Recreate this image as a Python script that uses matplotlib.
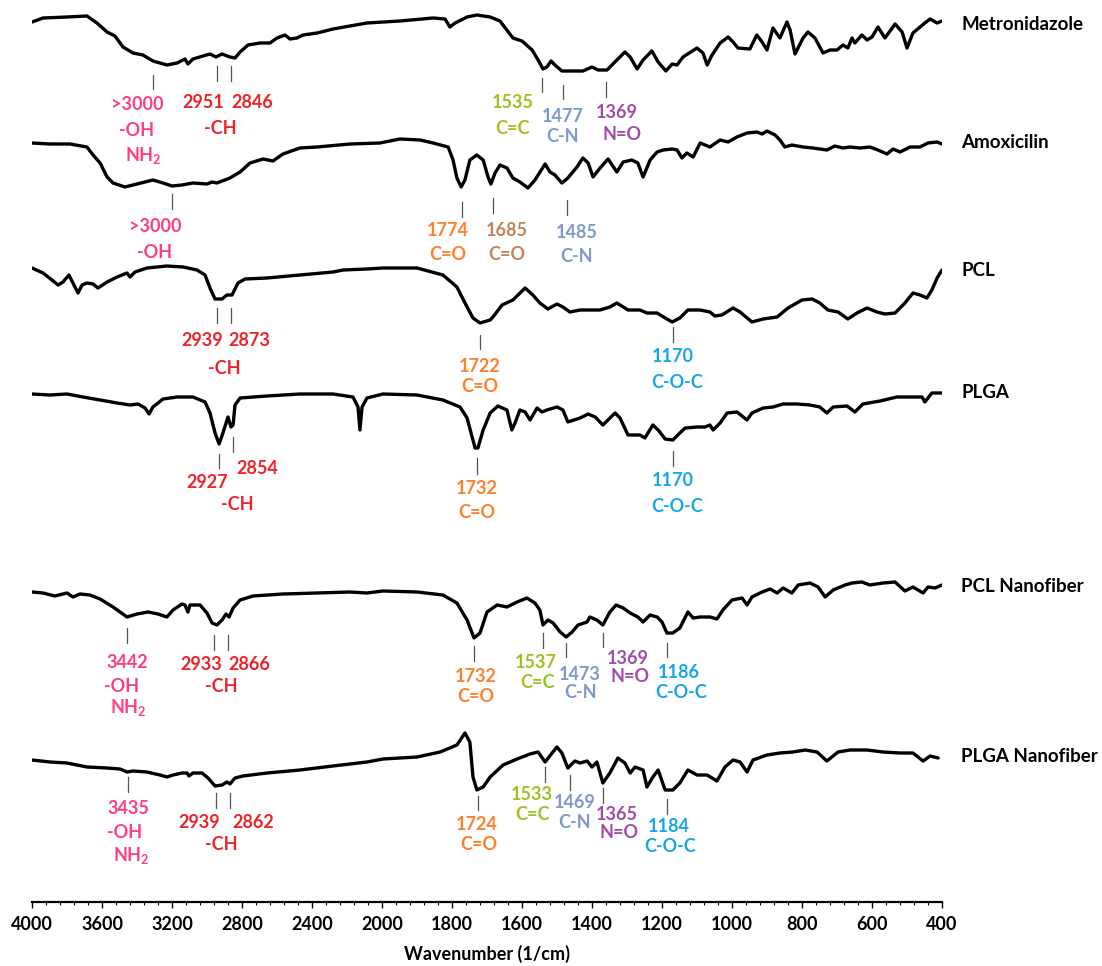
import numpy as np
import matplotlib
matplotlib.use('Agg')
import matplotlib.pyplot as plt
import matplotlib.transforms as mtransforms
from matplotlib.ticker import FixedLocator

plt.rcParams['font.family'] = ['Lato', 'DejaVu Sans']

# spectra: wavenumber (1/cm) and relative transmittance (a.u.)
metro_wn = [4000, 3937, 3800, 3686, 3629, 3571, 3526, 3480, 3423, 3366, 3309, 3229, 3171, 3126, 3109, 3080, 3023, 2983, 2949, 2914,
            2869, 2840, 2811, 2766, 2697, 2640, 2600, 2554, 2526, 2486, 2451, 2371, 2280, 2183, 2086, 1949, 1854, 1820, 1806, 1791,
            1757, 1729, 1691, 1663, 1626, 1600, 1571, 1554, 1540, 1529, 1517, 1506, 1486, 1463, 1426, 1400, 1383, 1357, 1329, 1306,
            1291, 1271, 1254, 1229, 1211, 1189, 1171, 1157, 1140, 1100, 1083, 1071, 1057, 1034, 1011, 997, 983, 949, 929, 914,
            900, 883, 863, 843, 834, 820, 797, 783, 763, 740, 720, 700, 683, 669, 657, 649, 629, 614, 600, 583,
            563, 534, 514, 500, 483, 449, 434, 414, 400]
metro_t = [93, 97, 98, 99, 92, 83, 79, 68, 62, 60, 54, 50, 52, 56, 51, 56, 59, 61, 58, 61,
           58, 57, 63, 70, 72, 72, 77, 80, 76, 77, 80, 82, 86, 89, 92, 94, 97, 96, 88, 92,
           98, 100, 98, 94, 77, 74, 65, 55, 46, 48, 54, 50, 44, 44, 44, 48, 45, 45, 55, 63,
           58, 46, 55, 64, 53, 44, 51, 50, 58, 67, 62, 50, 60, 72, 78, 73, 67, 66, 80, 73,
           65, 87, 77, 93, 85, 61, 77, 83, 77, 62, 65, 65, 70, 67, 77, 72, 80, 75, 78, 88,
           77, 91, 83, 67, 82, 92, 96, 92, 94]

amox_wn = [4000, 3897, 3783, 3686, 3651, 3611, 3571, 3537, 3469, 3400, 3309, 3251, 3200, 3143, 3080, 3000, 2971, 2943, 2869, 2811,
           2754, 2680, 2623, 2566, 2469, 2371, 2183, 2012, 1949, 1891, 1854, 1811, 1797, 1786, 1774, 1763, 1749, 1729, 1711, 1697,
           1689, 1677, 1663, 1643, 1626, 1606, 1583, 1563, 1534, 1520, 1506, 1486, 1469, 1443, 1426, 1411, 1397, 1377, 1354, 1329,
           1311, 1286, 1269, 1254, 1234, 1214, 1197, 1171, 1157, 1143, 1129, 1111, 1091, 1063, 1034, 1011, 986, 957, 929, 914,
           900, 877, 863, 849, 829, 797, 769, 729, 706, 683, 663, 634, 606, 583, 557, 540, 520, 491, 463, 440,
           414, 400]
amox_t = [88, 87, 87, 84, 76, 68, 54, 48, 44, 47, 51, 48, 45, 46, 48, 47, 49, 48, 53, 59,
          68, 72, 70, 77, 83, 84, 87, 88, 92, 91, 88, 84, 71, 53, 44, 51, 71, 76, 71, 54,
          47, 58, 66, 63, 53, 49, 43, 51, 67, 59, 56, 48, 53, 64, 73, 68, 54, 63, 72, 59,
          69, 71, 68, 54, 71, 79, 81, 82, 81, 73, 78, 74, 88, 84, 91, 89, 94, 98, 99, 97,
          100, 96, 91, 84, 86, 84, 83, 81, 85, 83, 84, 83, 84, 81, 77, 82, 79, 84, 84, 88,
          89, 87]

pcl_wn = [4000, 3937, 3886, 3851, 3823, 3789, 3766, 3737, 3714, 3686, 3651, 3623, 3571, 3514, 3457, 3440, 3411, 3343, 3229, 3137,
          3057, 3011, 2983, 2954, 2914, 2886, 2857, 2823, 2783, 2657, 2469, 2280, 2223, 2086, 1997, 1900, 1826, 1786, 1757, 1740,
          1720, 1691, 1683, 1657, 1626, 1591, 1569, 1549, 1526, 1500, 1483, 1463, 1434, 1406, 1377, 1349, 1329, 1297, 1263, 1243,
          1214, 1191, 1171, 1149, 1126, 1091, 1063, 1049, 1029, 997, 977, 943, 911, 871, 840, 800, 771, 749, 726, 697,
          669, 643, 614, 586, 563, 534, 506, 483, 463, 443, 429, 414, 400]
pcl_t = [98, 93, 86, 81, 84, 91, 83, 73, 81, 83, 82, 78, 84, 89, 93, 89, 94, 98, 100, 99,
         96, 91, 78, 67, 67, 71, 71, 83, 87, 88, 91, 94, 96, 97, 98, 98, 91, 79, 59, 48,
         43, 46, 49, 61, 66, 78, 71, 63, 57, 62, 59, 54, 56, 56, 56, 59, 63, 56, 56, 53,
         53, 48, 44, 48, 56, 56, 54, 50, 51, 58, 54, 44, 47, 49, 58, 66, 67, 63, 56, 54,
         47, 53, 58, 54, 52, 53, 63, 73, 71, 68, 76, 88, 96]

plga_wn = [4000, 3897, 3800, 3709, 3611, 3514, 3440, 3394, 3354, 3331, 3309, 3251, 3171, 3080, 3011, 2983, 2954, 2931, 2909, 2880,
           2863, 2851, 2840, 2811, 2657, 2469, 2280, 2166, 2137, 2126, 2114, 2086, 1997, 1900, 1826, 1777, 1757, 1734, 1726, 1711,
           1691, 1669, 1643, 1629, 1620, 1606, 1591, 1577, 1557, 1543, 1529, 1500, 1483, 1469, 1434, 1411, 1391, 1369, 1334, 1320,
           1297, 1263, 1249, 1226, 1211, 1191, 1169, 1149, 1134, 1100, 1077, 1063, 1054, 1034, 1014, 986, 957, 943, 911, 883,
           854, 814, 777, 749, 729, 711, 671, 649, 626, 577, 529, 483, 457, 449, 429, 400]
plga_t = [99, 98, 99, 96, 93, 90, 88, 89, 85, 79, 86, 94, 96, 96, 91, 80, 60, 49, 60, 76,
          66, 68, 88, 95, 97, 99, 99, 96, 86, 63, 86, 95, 99, 98, 93, 86, 75, 45, 45, 63,
          80, 87, 83, 63, 70, 83, 81, 73, 85, 81, 83, 86, 83, 71, 75, 79, 76, 68, 80, 75,
          58, 58, 55, 68, 63, 54, 53, 60, 65, 66, 66, 68, 63, 70, 80, 81, 73, 80, 85, 86,
          89, 89, 88, 86, 80, 86, 87, 81, 89, 92, 96, 96, 96, 91, 100, 100]

pclnf_wn = [4000, 3937, 3869, 3800, 3766, 3726, 3669, 3611, 3537, 3457, 3400, 3337, 3280, 3229, 3194, 3143, 3126, 3109, 3097, 3040,
            3000, 2971, 2943, 2914, 2891, 2874, 2851, 2811, 2737, 2566, 2371, 2183, 2086, 1997, 1900, 1826, 1786, 1757, 1737, 1720,
            1700, 1671, 1643, 1614, 1586, 1563, 1549, 1540, 1526, 1511, 1491, 1474, 1457, 1440, 1414, 1406, 1386, 1369, 1349, 1331,
            1311, 1291, 1269, 1254, 1234, 1214, 1200, 1186, 1169, 1149, 1126, 1111, 1091, 1063, 1043, 1026, 1000, 971, 957, 943,
            914, 891, 871, 854, 829, 811, 777, 754, 734, 711, 677, 657, 629, 606, 569, 534, 506, 483, 454, 440,
            420, 400]
pclnf_t = [90, 89, 86, 89, 85, 88, 87, 83, 75, 65, 68, 70, 68, 65, 72, 78, 77, 70, 77, 77,
           69, 59, 57, 62, 68, 65, 74, 82, 86, 88, 89, 90, 89, 91, 90, 87, 79, 62, 44, 49,
           70, 77, 75, 80, 84, 79, 72, 57, 62, 59, 50, 45, 50, 57, 60, 65, 62, 57, 70, 77,
           74, 69, 65, 60, 67, 65, 60, 49, 49, 54, 70, 64, 65, 65, 63, 72, 82, 84, 77, 85,
           90, 93, 89, 94, 89, 97, 99, 95, 85, 92, 97, 99, 100, 97, 99, 100, 91, 95, 89, 95,
           94, 97]

plganf_wn = [4000, 3897, 3800, 3686, 3571, 3497, 3457, 3423, 3343, 3269, 3229, 3194, 3143, 3114, 3103, 3080, 3029, 2994, 2954, 2914,
             2886, 2869, 2840, 2794, 2657, 2469, 2280, 2086, 1997, 1900, 1834, 1786, 1763, 1749, 1740, 1729, 1711, 1691, 1654, 1614,
             1577, 1554, 1534, 1514, 1500, 1486, 1469, 1449, 1434, 1414, 1400, 1386, 1369, 1349, 1326, 1306, 1291, 1277, 1254, 1243,
             1226, 1211, 1191, 1169, 1149, 1126, 1100, 1071, 1043, 1020, 997, 977, 957, 940, 900, 863, 826, 791, 757, 729,
             697, 663, 614, 569, 520, 483, 454, 434, 411]
plganf_t = [73, 71, 70, 66, 65, 64, 61, 62, 61, 58, 56, 58, 60, 60, 57, 60, 60, 55, 47, 48,
            51, 49, 55, 57, 60, 63, 67, 71, 74, 76, 81, 88, 100, 91, 56, 43, 46, 56, 68, 74,
            79, 81, 71, 80, 86, 80, 65, 72, 70, 72, 66, 71, 50, 60, 75, 70, 60, 66, 63, 46,
            56, 63, 43, 43, 50, 63, 58, 58, 52, 66, 73, 71, 61, 73, 78, 80, 81, 83, 81, 72,
            81, 83, 83, 81, 80, 80, 72, 77, 75]

names = ['Metronidazole', 'Amoxicilin', 'PCL', 'PLGA', 'PCL Nanofiber', 'PLGA Nanofiber']
spectra = [(metro_wn, metro_t), (amox_wn, amox_t), (pcl_wn, pcl_t),
           (plga_wn, plga_t), (pclnf_wn, pclnf_t), (plganf_wn, plganf_t)]
offsets = [787, 671, 536, 409, 220, 69]
name_y = [878, 760, 631, 510, 315, 145]

major_ticks = [4000, 3600, 3200, 2800, 2400, 2000, 1800, 1600, 1400, 1200, 1000, 800, 600, 400]

group_colors = {'OH': '#FF3D7F', 'CH': '#EE2228', 'CC': '#9BC320', 'CN': '#7C99C9',
                'NO': '#A24BA8', 'CO': '#FF7F2A', 'CO2': '#C0835B', 'COC': '#16A6E8'}

NH2 = r'NH$_\mathregular{2}$'

# peak markers: (wavenumber, y top, y bottom)
marks = [(3310, 827, 813), (2943, 836, 821), (2863, 836, 821), (1543, 824, 810), (1483, 817, 803), (1360, 820, 805),
         (3200, 708, 693), (1771, 700, 685), (1683, 704, 689), (1471, 702, 687),
         (2943, 594, 579), (2863, 594, 579), (1720, 567, 553), (1169, 575, 560),
         (2931, 448, 434), (2851, 465, 450), (1729, 444, 428), (1169, 451, 436),
         (3457, 274, 259), (2960, 267, 252), (2880, 267, 252), (1737, 256, 241), (1540, 269, 254),
         (1474, 259, 245), (1369, 269, 255), (1186, 259, 245),
         (3451, 125, 110), (2949, 109, 94), (2869, 109, 94), (1726, 106, 92), (1534, 135, 120),
         (1463, 127, 112), (1369, 114, 99), (1186, 103, 88)]

# peak labels: (text, wavenumber, y, group)
labels = [('>3000', 3400, 797, 'OH'), ('-OH', 3400, 772, 'OH'), (NH2, 3366, 747, 'OH'),
          ('2951', 3023, 800, 'CH'), ('2846', 2743, 800, 'CH'), ('-CH', 2926, 774, 'CH'),
          ('1535', 1626, 799, 'CC'), ('C=C', 1626, 773, 'CC'), ('1477', 1483, 786, 'CN'), ('C-N', 1483, 765, 'CN'),
          ('1369', 1329, 789, 'NO'), ('N=O', 1314, 768, 'NO'),
          ('>3000', 3297, 675, 'OH'), ('-OH', 3297, 650, 'OH'),
          ('1774', 1811, 672, 'CO'), ('C=O', 1811, 647, 'CO'), ('1685', 1643, 672, 'CO2'), ('C=O', 1643, 647, 'CO2'),
          ('1485', 1443, 669, 'CN'), ('C-N', 1443, 646, 'CN'),
          ('2939', 3029, 561, 'CH'), ('2873', 2760, 561, 'CH'), ('-CH', 2903, 534, 'CH'),
          ('1722', 1720, 535, 'CO'), ('C=O', 1720, 515, 'CO'), ('1170', 1169, 545, 'COC'), ('C-O-C', 1157, 519, 'COC'),
          ('2927', 3000, 419, 'CH'), ('2854', 2714, 434, 'CH'), ('-CH', 2829, 398, 'CH'),
          ('1732', 1729, 414, 'CO'), ('C=O', 1729, 389, 'CO'), ('1170', 1169, 422, 'COC'), ('C-O-C', 1157, 396, 'COC'),
          ('3442', 3457, 240, 'OH'), ('-OH', 3486, 216, 'OH'), (NH2, 3451, 194, 'OH'),
          ('2933', 3034, 237, 'CH'), ('2866', 2760, 238, 'CH'), ('-CH', 2920, 215, 'CH'),
          ('1732', 1731, 225, 'CO'), ('C=O', 1731, 205, 'CO'), ('1537', 1560, 240, 'CC'), ('C=C', 1557, 220, 'CC'),
          ('1473', 1434, 228, 'CN'), ('C-N', 1434, 209, 'CN'), ('1369', 1297, 244, 'NO'), ('N=O', 1291, 225, 'NO'),
          ('1186', 1151, 229, 'COC'), ('C-O-C', 1146, 209, 'COC'),
          ('3435', 3451, 93, 'OH'), ('-OH', 3469, 69, 'OH'), (NH2, 3434, 47, 'OH'),
          ('2939', 3046, 80, 'CH'), ('2862', 2737, 80, 'CH'), ('-CH', 2920, 58, 'CH'),
          ('1724', 1729, 78, 'CO'), ('C=O', 1723, 58, 'CO'), ('1533', 1571, 107, 'CC'), ('C=C', 1569, 88, 'CC'),
          ('1469', 1449, 100, 'CN'), ('C-N', 1449, 79, 'CN'), ('1365', 1329, 88, 'NO'), ('N=O', 1323, 69, 'NO'),
          ('1184', 1180, 75, 'COC'), ('C-O-C', 1177, 55, 'COC')]


# instrument axis: half scale above 2000 1/cm
def fwd(w):
    w = np.asarray(w, dtype=float)
    return np.where(w >= 2000, w, 2 * w - 2000)


def inv(d):
    d = np.asarray(d, dtype=float)
    return np.where(d >= 2000, d, (d + 2000) / 2)


fig = plt.figure(figsize=(11.02, 9.66), dpi=100)
ax = fig.add_axes([32 / 1102, 64 / 966, 910 / 1102, 902 / 966])
ax.set_xscale('function', functions=(fwd, inv))
ax.set_xlim(4000, 400)
ax.set_ylim(0, 902)

for (wn, t), off in zip(spectra, offsets):
    ax.plot(wn, np.array(t) + off, color='black', linewidth=2.4,
            solid_joinstyle='round', solid_capstyle='round')

for w, y1, y2 in marks:
    ax.plot([w, w], [y2, y1], color='#555555', linewidth=0.9)

for s, w, y, g in labels:
    ax.text(w, y, s, color=group_colors[g], fontsize=13, ha='center', va='center', fontweight='bold')

trans = mtransforms.blended_transform_factory(ax.transAxes, ax.transData)
for nm, y in zip(names, name_y):
    ax.text(1.021, y, nm, transform=trans, fontsize=13.5, fontweight='bold', ha='left', va='center')

for sp in ['left', 'right', 'top']:
    ax.spines[sp].set_visible(False)
ax.spines['bottom'].set_linewidth(1.6)
ax.set_yticks([])

ax.set_xticks(major_ticks, labels=[str(v) for v in major_ticks], fontweight='bold')
minor = list(range(4000, 2000, -80)) + list(range(2000, 399, -40))
ax.xaxis.set_minor_locator(FixedLocator(minor))
ax.tick_params(axis='x', which='major', length=4, width=1.0, direction='out', labelsize=13, pad=6)
ax.tick_params(axis='x', which='minor', length=2.5, width=0.8, direction='out')
ax.set_xlabel('Wavenumber (1/cm)', fontsize=13, fontweight='bold', labelpad=9)

fig.savefig('out.png', dpi=100)
